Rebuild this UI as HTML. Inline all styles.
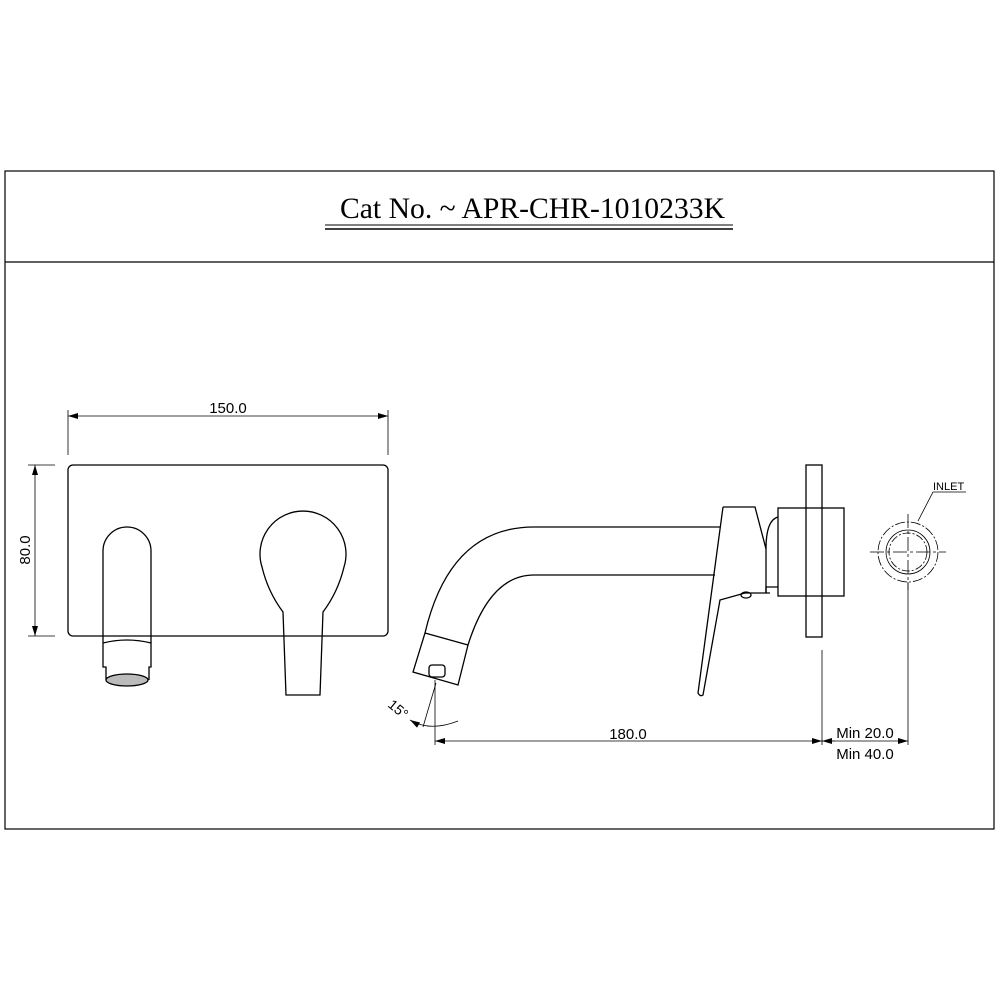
<!DOCTYPE html>
<html><head><meta charset="utf-8"><style>body{margin:0;background:#fff}svg{display:block}</style></head><body>
<svg width="1000" height="1000" viewBox="0 0 1000 1000" xmlns="http://www.w3.org/2000/svg" font-family="Liberation Sans, sans-serif">
<defs><marker id="a" viewBox="0 0 10 6" refX="10" refY="3" markerWidth="10" markerHeight="6" orient="auto-start-reverse" markerUnits="userSpaceOnUse"><path d="M0,0 L10,3 L0,6z" fill="#000"/></marker></defs>
<rect x="5" y="171" width="989" height="658" fill="none" stroke="#000" stroke-width="1.2"/>
<line x1="5" y1="262" x2="994" y2="262" stroke="#000" stroke-width="1.2"/>
<text x="340" y="218" font-family="Liberation Serif, serif" font-size="30" textLength="385" lengthAdjust="spacingAndGlyphs">Cat No. ~ APR-CHR-1010233K</text>
<line x1="325" y1="225" x2="733" y2="225" stroke="#000" stroke-width="1"/>
<line x1="325" y1="229" x2="733" y2="229" stroke="#000" stroke-width="1.5"/>
<g fill="none" stroke="#000" stroke-width="1.3">
<rect x="68" y="465" width="320" height="171" rx="5"/>
<path d="M103,643 V551 A24,24 0 0 1 151,551 V643"/>
<path d="M103,643 Q127,637 151,643 V667 H149 V680 M103,643 V667 H106 V680"/>
<ellipse cx="127" cy="680" rx="21" ry="6" fill="#bbb"/>
<path d="M286,695 L283,612 Q268,592 262,567 A43,43 0 1 1 344,567 Q338,592 323,612 L320,695 Z"/>
<path d="M720,527 H534 Q450,527 425,633 L413,672 L458,685 L468,645 Q490,575 534,575 H715"/>
<path d="M425,633 L468,645"/>
<rect x="429" y="665" width="16" height="12" rx="3"/>
<path d="M723,507 H755 L766,549 V593 H770 M723,507 L698,693 Q700,697 703,695 L720,600 L745,593 H766"/>
<path d="M766,593 V587 H778 M766,549 Q766,520 778,517 H778"/>
<rect x="778" y="508" width="66" height="88"/>
<rect x="806" y="465" width="16" height="172"/>
<ellipse cx="746" cy="595" rx="5" ry="3"/>
</g>
<g stroke="#000" stroke-width="0.8" fill="none">
<line x1="68" y1="410" x2="68" y2="455"/><line x1="388" y1="410" x2="388" y2="455"/>
<line x1="68" y1="416" x2="388" y2="416" marker-start="url(#a)" marker-end="url(#a)"/>
<line x1="28" y1="465" x2="55" y2="465"/><line x1="28" y1="636" x2="55" y2="636"/>
<line x1="35" y1="465" x2="35" y2="636" marker-start="url(#a)" marker-end="url(#a)"/>
<line x1="435" y1="680" x2="435" y2="745"/>
<line x1="822" y1="650" x2="822" y2="745"/>
<line x1="908" y1="582" x2="908" y2="745"/>
<line x1="435" y1="741" x2="822" y2="741" marker-start="url(#a)" marker-end="url(#a)"/>
<line x1="835" y1="741" x2="822" y2="741" marker-end="url(#a)"/>
<line x1="830" y1="741" x2="908" y2="741" marker-end="url(#a)"/>
<line x1="436" y1="683" x2="423" y2="727"/>
<path d="M410,720 Q430,732 458,721" marker-start="url(#a)"/>
<circle cx="908" cy="552" r="30" stroke-dasharray="10,2,2,2"/>
<circle cx="908" cy="552" r="22"/>
<circle cx="908" cy="552" r="19" stroke-dasharray="8,2,2,2"/>
<path d="M870,552 H946 M908,514 V590" stroke-dasharray="14,3,3,3"/>
<path d="M918,521 L933,492 H966"/>
</g>
<g font-size="15" fill="#000">
<text x="228" y="413" text-anchor="middle">150.0</text>
<text transform="translate(30,550) rotate(-90)" text-anchor="middle">80.0</text>
<text x="628" y="739" text-anchor="middle">180.0</text>
<text x="865" y="738" text-anchor="middle">Min 20.0</text>
<text x="865" y="759" text-anchor="middle">Min 40.0</text>
<text transform="translate(387,706) rotate(40)" font-size="14">15°</text>
<text x="933" y="490" font-size="11">INLET</text>
</g>
</svg>
</body></html>
